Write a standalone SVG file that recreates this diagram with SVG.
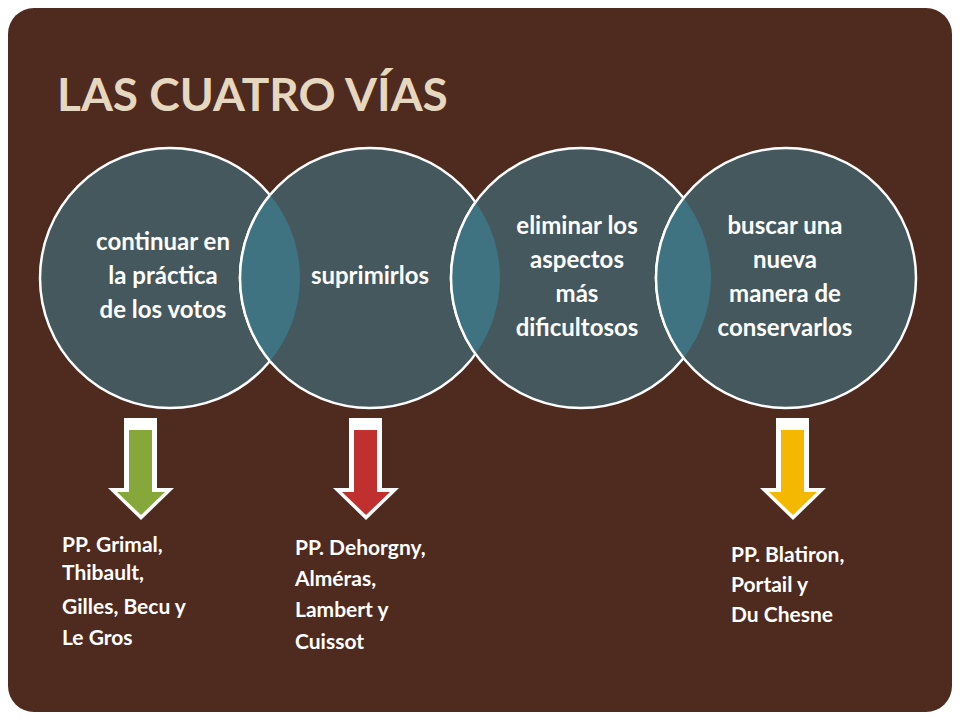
<svg xmlns="http://www.w3.org/2000/svg" width="960" height="720" viewBox="0 0 960 720">
<style>
.c{fill:#44585E;stroke:#fff;stroke-width:2.5}
.o{fill:#3F7382;stroke:#fff;stroke-width:2.5}
.t{font-family:Lato,"Open Sans",sans-serif;font-weight:bold;fill:#fff;font-size:24px;text-anchor:middle}
.l{font-family:Lato,"Open Sans",sans-serif;font-weight:bold;fill:#fff;font-size:21px}
</style>
<defs>
<clipPath id="c1"><circle cx="170" cy="278" r="130"/></clipPath>
<clipPath id="c2"><circle cx="370" cy="278" r="130"/></clipPath>
<clipPath id="c3"><circle cx="581" cy="278" r="130"/></clipPath>
</defs>
<rect width="960" height="720" fill="#fff"/>
<rect x="8" y="8" width="944" height="704" rx="26" fill="#4F2A1F"/>
<text x="57" y="111" font-family="Lato,'Open Sans',sans-serif" font-weight="bold" font-size="46" fill="#E6D7C0">LAS CUATRO VÍAS</text>
<g id="nodes">
<g id="n1"><circle class="c" cx="170" cy="278" r="130"/></g>
<g id="n2"><circle class="c" cx="370" cy="278" r="130"/></g>
<g id="n3"><circle class="c" cx="581" cy="278" r="130"/></g>
<g id="n4"><circle class="c" cx="786" cy="278" r="130"/></g>
<circle class="o" cx="370" cy="278" r="130" clip-path="url(#c1)"/>
<circle class="o" cx="581" cy="278" r="130" clip-path="url(#c2)"/>
<circle class="o" cx="786" cy="278" r="130" clip-path="url(#c3)"/>
<text class="t" x="163"><tspan x="163" y="250">continuar en</tspan><tspan x="163" y="284">la práctica</tspan><tspan x="163" y="318">de los votos</tspan></text>
<text class="t" x="370" y="284">suprimirlos</text>
<text class="t"><tspan x="577" y="234">eliminar los</tspan><tspan x="577" y="268">aspectos</tspan><tspan x="577" y="302">más</tspan><tspan x="577" y="336">dificultosos</tspan></text>
<text class="t"><tspan x="785" y="234">buscar una</tspan><tspan x="785" y="268">nueva</tspan><tspan x="785" y="302">manera de</tspan><tspan x="785" y="336">conservarlos</tspan></text>
</g>
<g id="connectors">
<g transform="translate(0,0)">
<polygon fill="#fff" points="124,418 157,418 157,488 174,488 141,520 108,488 124,488"/>
<polygon fill="#86A83A" points="129,430 152,430 152,492 165,492 141,515 117,492 129,492"/>
</g>
<g transform="translate(225,0)">
<polygon fill="#fff" points="124,418 157,418 157,488 174,488 141,520 108,488 124,488"/>
<polygon fill="#C0302E" points="129,430 152,430 152,492 165,492 141,515 117,492 129,492"/>
</g>
<g transform="translate(652,0)">
<polygon fill="#fff" points="124,418 157,418 157,488 174,488 141,520 108,488 124,488"/>
<polygon fill="#F5B800" points="129,430 152,430 152,492 165,492 141,515 117,492 129,492"/>
</g>
</g>
<text class="l"><tspan x="62" y="552">PP. Grimal,</tspan><tspan x="62" y="580">Thibault,</tspan><tspan x="62" y="614">Gilles, Becu y</tspan><tspan x="62" y="645">Le Gros</tspan></text>
<text class="l"><tspan x="295" y="555">PP. Dehorgny,</tspan><tspan x="295" y="586">Alméras,</tspan><tspan x="295" y="617">Lambert y</tspan><tspan x="295" y="649">Cuissot</tspan></text>
<text class="l"><tspan x="731" y="562">PP. Blatiron,</tspan><tspan x="731" y="592">Portail y</tspan><tspan x="731" y="622">Du Chesne</tspan></text>
</svg>
